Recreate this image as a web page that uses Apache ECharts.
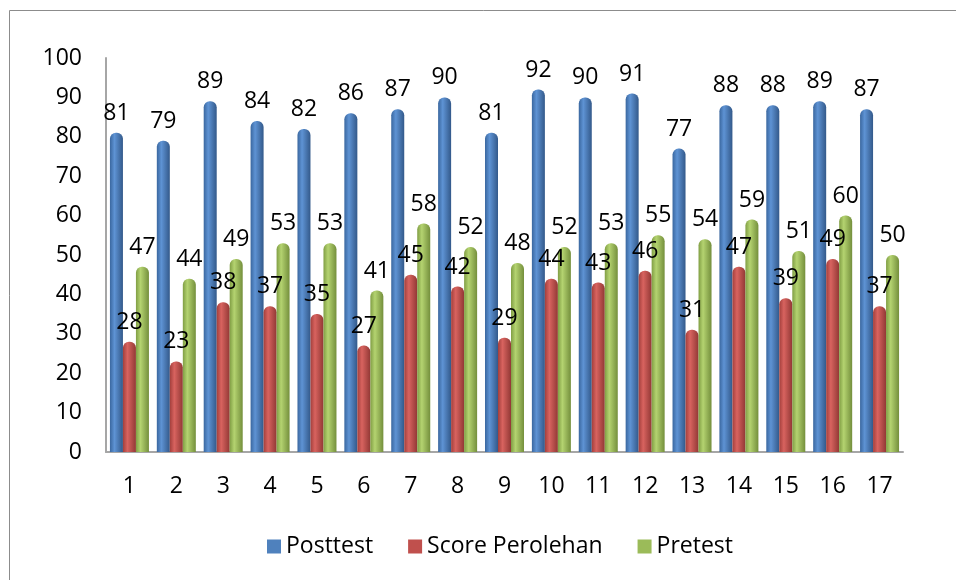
<!DOCTYPE html>
<html>
<head>
<meta charset="utf-8">
<script src="https://cdn.jsdelivr.net/npm/echarts@6/dist/echarts.min.js"></script>
<style>html,body{margin:0;padding:0;background:#fff}#c{width:956px;height:580px}</style>
</head>
<body>
<div id="c"></div>
<script>
const categories = ['1','2','3','4','5','6','7','8','9','10','11','12','13','14','15','16','17'];
const posttest = [81,79,89,84,82,86,87,90,81,92,90,91,77,88,88,89,87];
const scorePerolehan = [28,23,38,37,35,27,45,42,29,44,43,46,31,47,39,49,37];
const pretest = [47,44,49,53,53,41,58,52,48,52,53,55,54,59,51,60,50];
const yTicks = {min:0, max:100, interval:10};

const FONT = 'Open Sans';
function cyl(c0, c1, c2) {
  return new echarts.graphic.LinearGradient(0,0,1,0,[
    {offset:0,color:c0},{offset:0.35,color:c1},{offset:1,color:c2}
  ]);
}
function mk(name, data, colors) {
  return {
    name: name, type: 'bar', data: data, barWidth: 13, barGap: '0%',
    itemStyle: { color: cyl(colors[0], colors[1], colors[2]), borderRadius: [6,6,0,0] },
    label: { show: true, position: 'top', distance: 8, color: '#000', fontFamily: FONT, fontSize: 23 },
    emphasis: { disabled: true }
  };
}
const chart = echarts.init(document.getElementById('c'));
chart.setOption({
  animation: false,
  color: ['#4F81BD','#C0504D','#9BBB59'],
  graphic: [{
    type: 'rect', shape: {x: 9.5, y: 10.5, width: 960, height: 600},
    style: {fill: 'none', stroke: '#8C8C8C', lineWidth: 1}, silent: true
  }],
  grid: { left: 106, right: 53, top: 58, bottom: 128 },
  legend: {
    bottom: 17, left: 262, itemWidth: 14, itemHeight: 14, itemGap: 35,
    icon: 'rect',
    textStyle: { fontFamily: FONT, fontSize: 23, color: '#000' },
    data: [
      {name:'Posttest', itemStyle:{color:'#4F81BD'}},
      {name:'Score Perolehan', itemStyle:{color:'#C0504D'}},
      {name:'Pretest', itemStyle:{color:'#9BBB59'}}
    ]
  },
  xAxis: {
    type: 'category', data: categories,
    axisLine: { lineStyle: { color: '#A6A6A6', width: 2 } },
    axisTick: { show: false },
    axisLabel: { color: '#000', fontFamily: FONT, fontSize: 23, margin: 23 }
  },
  yAxis: {
    type: 'value', min: yTicks.min, max: yTicks.max, interval: yTicks.interval,
    axisLine: { show: true, lineStyle: { color: '#A6A6A6', width: 2 } },
    axisTick: { show: false },
    splitLine: { show: false },
    axisLabel: { color: '#000', fontFamily: FONT, fontSize: 23, margin: 24 }
  },
  series: [
    mk('Posttest', posttest, ['#3A679F','#5E93D4','#33598A']),
    mk('Score Perolehan', scorePerolehan, ['#A33F3C','#D8635F','#923835']),
    mk('Pretest', pretest, ['#809E44','#B4D370','#748F3C'])
  ]
});
</script>
</body>
</html>
